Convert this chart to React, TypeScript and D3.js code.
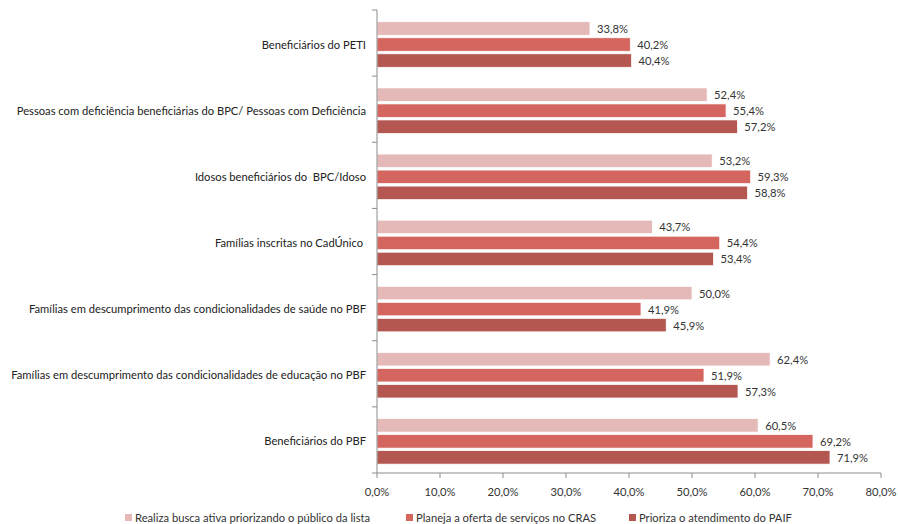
import React from "react";
import * as d3 from "d3";

const categories = [
  "Beneficiários do PETI",
  "Pessoas com deficiência beneficiárias do BPC/ Pessoas com Deficiência",
  "Idosos beneficiários do  BPC/Idoso",
  "Famílias inscritas no CadÚnico ",
  "Famílias em descumprimento das condicionalidades de saúde no PBF",
  "Famílias em descumprimento das condicionalidades de educação no PBF",
  "Beneficiários do PBF",
];
const seriesNames = [
  "Realiza busca ativa priorizando o público da lista",
  "Planeja a oferta de serviços no CRAS",
  "Prioriza o atendimento do PAIF",
];
const buscaAtiva = [33.8, 52.4, 53.2, 43.7, 50.0, 62.4, 60.5];
const planeja = [40.2, 55.4, 59.3, 54.4, 41.9, 51.9, 69.2];
const prioriza = [40.4, 57.2, 58.8, 53.4, 45.9, 57.3, 71.9];
const xTicks = [0, 10, 20, 30, 40, 50, 60, 70, 80];
const colors = ["#E4B9B8", "#D4665F", "#B35750"];

const W = 898, H = 524;
const left = 377, right = 881, top = 10, bottom = 473;
const font = "Lato, 'Open Sans', sans-serif";
const fs = 11.2;
const fmt = (v: number) => v.toFixed(1).replace(".", ",");

export default function App() {
  const series = [buscaAtiva, planeja, prioriza];
  const x = d3.scaleLinear().domain([0, 80]).range([left, right]);
  const y = d3.scaleBand<string>().domain(categories).range([top, bottom]).paddingInner(0).paddingOuter(0);
  const inner = d3.scaleBand<number>().domain([0, 1, 2]).range([0, y.bandwidth()]).paddingOuter(0.645).paddingInner(0.16).align(0.57);
  const axisColor = "#8c8c8c";
  const legendX = [125, 406, 629];
  return (
    <svg width={W} height={H} style={{ position: "absolute", left: 0, top: 0, background: "#fff" }} fontFamily={font}>
      {categories.map((c, i) => (
        <g key={c}>
          <text x={366} y={y(c)! + y.bandwidth() / 2 + 1} textAnchor="end" dominantBaseline="central" fontSize={fs} fill="#222" style={{ whiteSpace: "pre" }}>{c}</text>
          {series.map((s, k) => {
            const by = y(c)! + inner(k)!;
            return (
              <g key={k}>
                <rect x={x(0)} y={by} width={x(s[i]) - x(0)} height={inner.bandwidth()} fill={colors[k]} stroke="#fff" strokeWidth={0.7} />
                <text x={x(s[i]) + 7} y={by + inner.bandwidth() / 2} dominantBaseline="central" fontSize={fs} fill="#333">{fmt(s[i])}%</text>
              </g>
            );
          })}
        </g>
      ))}
      <line x1={left} x2={left} y1={top} y2={bottom} stroke={axisColor} />
      {d3.range(categories.length + 1).map((i) => {
        const yy = top + i * y.step();
        return <line key={i} x1={left - 5} x2={left} y1={yy} y2={yy} stroke={axisColor} />;
      })}
      <line x1={left} x2={right} y1={bottom} y2={bottom} stroke={axisColor} />
      {xTicks.map((t) => (
        <g key={t}>
          <line x1={x(t)} x2={x(t)} y1={bottom} y2={bottom + 5} stroke={axisColor} />
          <text x={x(t)} y={bottom + 18} textAnchor="middle" dominantBaseline="central" fontSize={fs} fill="#333">{fmt(t)}%</text>
        </g>
      ))}
      {seriesNames.map((n, k) => (
        <g key={n}>
          <rect x={legendX[k]} y={514} width={7} height={7} fill={colors[k]} />
          <text x={legendX[k] + 10} y={517.5} dominantBaseline="central" fontSize={fs} fill="#333">{n}</text>
        </g>
      ))}
    </svg>
  );
}
